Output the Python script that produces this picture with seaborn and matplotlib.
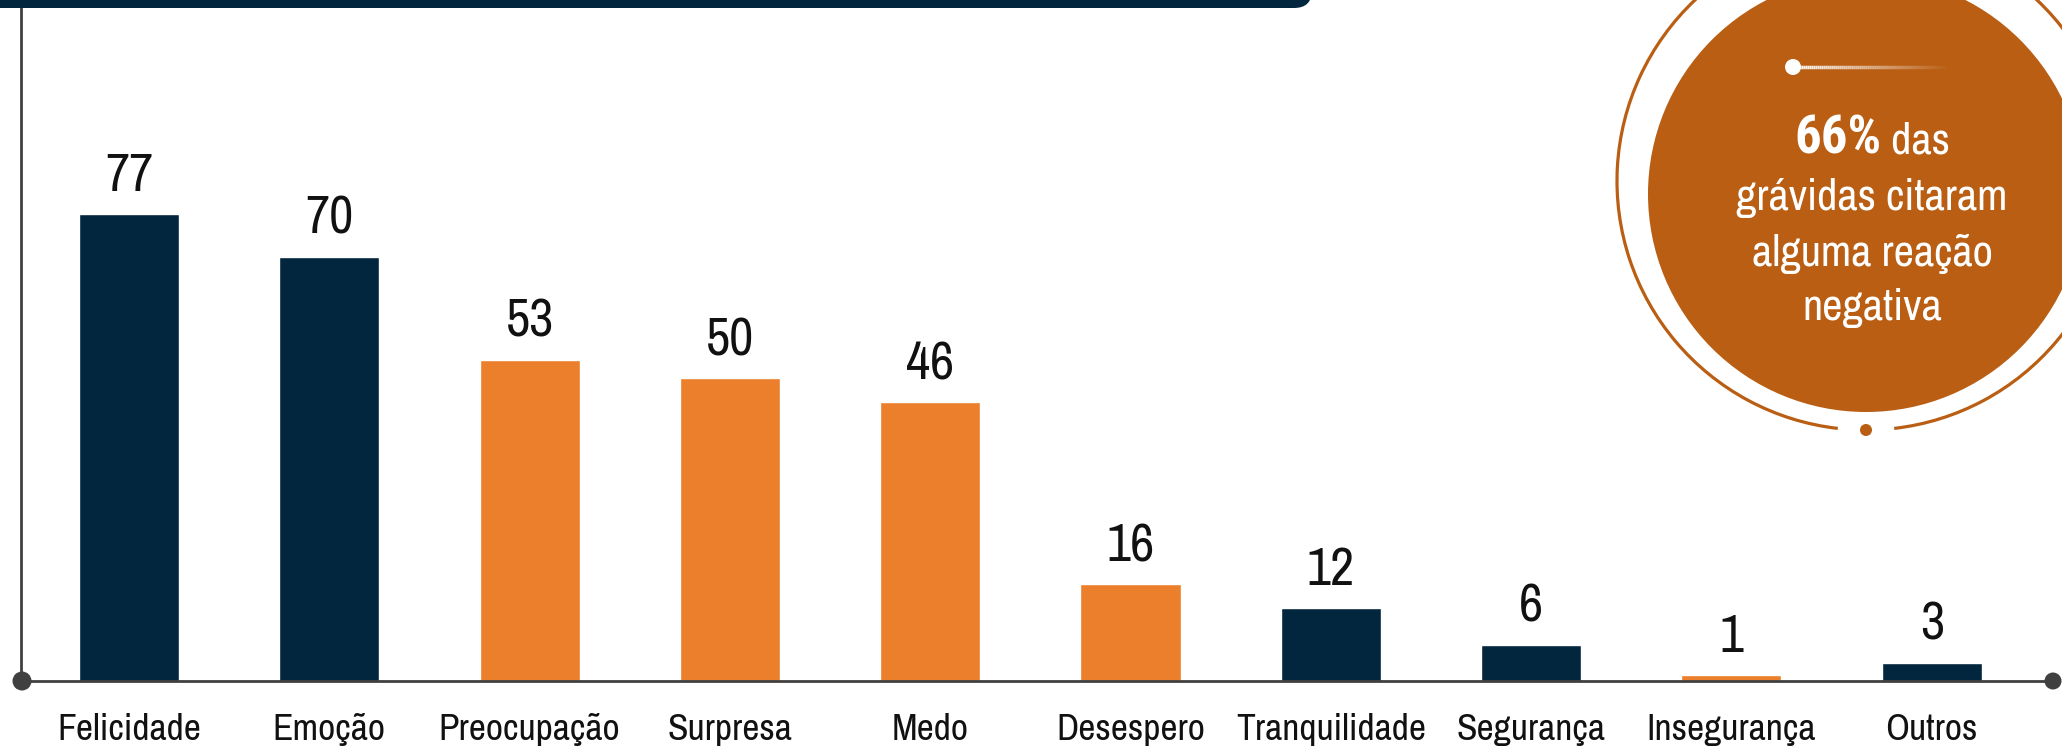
import numpy as np
import pandas as pd
import matplotlib
matplotlib.use("Agg")
import matplotlib.pyplot as plt
import seaborn as sns
from matplotlib.patches import Circle, Arc, FancyBboxPatch
from matplotlib.collections import LineCollection

# ---------------- data ----------------
categories = ["Felicidade", "Emoção", "Preocupação", "Surpresa", "Medo",
              "Desespero", "Tranquilidade", "Segurança", "Insegurança", "Outros"]
values = [77, 70, 53, 50, 46, 16, 12, 6, 1, 3]
reaction = ["pos", "pos", "neg", "neg", "neg", "neg", "pos", "pos", "neg", "pos"]
callout_pct = "66%"
callout_first = " das"
callout_lines = ["grávidas citaram", "alguma reação", "negativa"]

NAVY = "#02263E"
ORANGE = "#EB7F2B"
RUST = "#B95E13"
AXIS = "#404040"

sns.set_theme(style="white")
plt.rcParams["font.family"] = ["Archivo Narrow", "Liberation Sans", "DejaVu Sans"]

W, H = 2062, 749
fig = plt.figure(figsize=(W / 100, H / 100), dpi=100)
base_px, top_px, left_px, right_px = 681, 8, 21, 2053
ax = fig.add_axes([left_px / W, (H - base_px) / H, (right_px - left_px) / W, (base_px - top_px) / H])

df = pd.DataFrame({"cat": categories, "val": values, "type": reaction})
palette = {"pos": NAVY, "neg": ORANGE}
sns.barplot(data=df, x="cat", y="val", hue="type", palette=palette, order=categories,
            width=0.5, dodge=False, legend=False, ax=ax, saturation=1)

ax.set_xlim((left_px - 129) / 200.3, (right_px - 129) / 200.3)
ax.set_ylim(0, (base_px - top_px) / 6.06)
ax.set_yticks([])
ax.set_xlabel("")
ax.set_ylabel("")
ax.tick_params(axis="x", length=0, pad=23, labelsize=27, labelcolor="#111111")
for s in ["top", "right"]:
    ax.spines[s].set_visible(False)
for s in ["left", "bottom"]:
    ax.spines[s].set_color(AXIS)
    ax.spines[s].set_linewidth(2)

for i, v in enumerate(values):
    ax.annotate(str(v), xy=(i, v), xytext=(0, 10), textcoords="offset points",
                ha="center", va="bottom", fontsize=38, color="#111111")

# ---------------- overlay (pixel space) ----------------
ov = fig.add_axes([0, 0, 1, 1], zorder=5)
ov.set_xlim(0, W)
ov.set_ylim(H, 0)
ov.axis("off")
ov.patch.set_alpha(0)

ov.add_patch(FancyBboxPatch((-40, -60), 1352, 68, boxstyle="round,pad=0,rounding_size=18",
                            fc=NAVY, ec="none"))
ov.add_patch(Circle((22, base_px), 9.5, fc=AXIS, ec="none"))
ov.add_patch(Circle((2053, base_px), 8.5, fc=AXIS, ec="none"))

# callout
ov.add_patch(Circle((1866, 194), 218, fc=RUST, ec="none"))
ov.add_patch(Arc((1866, 181), 498, 498, theta1=96.5, theta2=443.5, color=RUST, lw=2.3))
ov.add_patch(Circle((1866, 430), 6, fc=RUST, ec="none"))

xs = np.linspace(1793, 1950, 80)
segs = [[(xs[k], 67), (xs[k + 1], 67)] for k in range(len(xs) - 1)]
alphas = np.linspace(1, 0.0, len(segs))
cols = [(1, 1, 1, a) for a in alphas]
ov.add_collection(LineCollection(segs, colors=cols, linewidths=2.5))
ov.add_patch(Circle((1793, 67), 8, fc="white", ec="none"))

t1 = ov.text(0, 139, callout_pct, fontweight="bold", fontsize=38, color="white", va="baseline", ha="left",
             family=["Roboto Condensed", "Liberation Sans", "DejaVu Sans"])
t2 = ov.text(0, 139, callout_first, fontsize=32, color="white", va="baseline", ha="left")
fig.canvas.draw()
r = fig.canvas.get_renderer()
w1 = t1.get_window_extent(r).width
w2 = t2.get_window_extent(r).width
x0 = 1872 - (w1 + w2) / 2
t1.set_x(x0)
t2.set_x(x0 + w1)
t1.set_y(153)
t2.set_y(153)
for y, line in zip([198, 254, 308], callout_lines):
    ov.text(1872, y, line, fontsize=32, color="white", ha="center", va="center")

fig.savefig("out.png", dpi=100)
